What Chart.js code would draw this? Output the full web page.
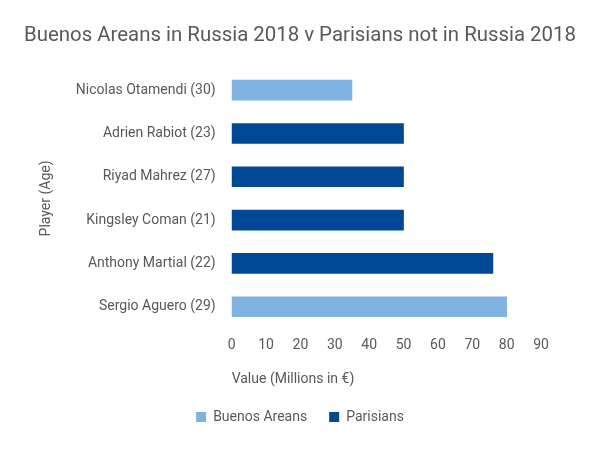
<!DOCTYPE html>
<html>
<head>
<meta charset="utf-8">
<script src="https://cdn.jsdelivr.net/npm/chart.js@4/dist/chart.umd.min.js"></script>
<style>
  html, body { margin: 0; padding: 0; background: #ffffff; }
  #wrap { width: 600px; height: 450px; }
</style>
</head>
<body>
<div id="wrap"><canvas id="c" width="600" height="450"></canvas></div>
<script>
const categories = [
  "Nicolas Otamendi (30)",
  "Adrien Rabiot (23)",
  "Riyad Mahrez (27)",
  "Kingsley Coman (21)",
  "Anthony Martial (22)",
  "Sergio Aguero (29)"
];
const buenosAreans = [35, null, null, null, null, 80];
const parisians = [null, 50, 50, 50, 76, null];
const seriesNames = ["Buenos Areans", "Parisians"];

const textColor = "#595959";
const fontFamily = "Roboto, 'Open Sans', sans-serif";

// Center title and legend over the full canvas width
const centerBlocks = {
  id: "centerBlocks",
  afterLayout(chart) {
    [chart.titleBlock, chart.legend].forEach(b => {
      if (b) { b.left = 0; b.right = chart.width; b.width = chart.width; }
    });
  }
};

new Chart(document.getElementById("c"), {
  type: "bar",
  data: {
    labels: categories,
    datasets: [
      { label: seriesNames[0], data: buenosAreans, backgroundColor: "#7fb2e0", barThickness: 20 },
      { label: seriesNames[1], data: parisians, backgroundColor: "#004896", barThickness: 20 }
    ]
  },
  plugins: [centerBlocks],
  options: {
    indexAxis: "y",
    responsive: false,
    animation: false,
    layout: { padding: { left: 38, right: 59, top: 8, bottom: 16 } },
    plugins: {
      title: {
        display: true,
        text: "Buenos Areans in Russia 2018 v Parisians not in Russia 2018",
        color: textColor,
        font: { family: fontFamily, size: 20.4, weight: "normal" },
        padding: { top: 16, bottom: 20 }
      },
      legend: {
        position: "bottom",
        labels: {
          color: textColor,
          font: { family: fontFamily, size: 14 },
          boxWidth: 10,
          boxHeight: 10,
          padding: 22
        }
      },
      tooltip: { enabled: false }
    },
    scales: {
      x: {
        stacked: true,
        min: 0,
        max: 90,
        ticks: { stepSize: 10, color: textColor, font: { family: fontFamily, size: 14 }, padding: 9 },
        grid: { display: false, drawTicks: false },
        border: { display: false },
        title: {
          display: true,
          text: "Value (Millions in €)",
          align: "start",
          color: textColor,
          font: { family: fontFamily, size: 14 },
          padding: { top: 8, bottom: 0 }
        }
      },
      y: {
        stacked: true,
        ticks: { color: textColor, font: { family: fontFamily, size: 14 }, padding: 16 },
        grid: { display: false, drawTicks: false },
        border: { display: false },
        title: {
          display: true,
          text: "Player (Age)",
          color: textColor,
          font: { family: fontFamily, size: 14 },
          padding: { top: 0, bottom: 5 }
        }
      }
    }
  }
});
</script>
</body>
</html>
